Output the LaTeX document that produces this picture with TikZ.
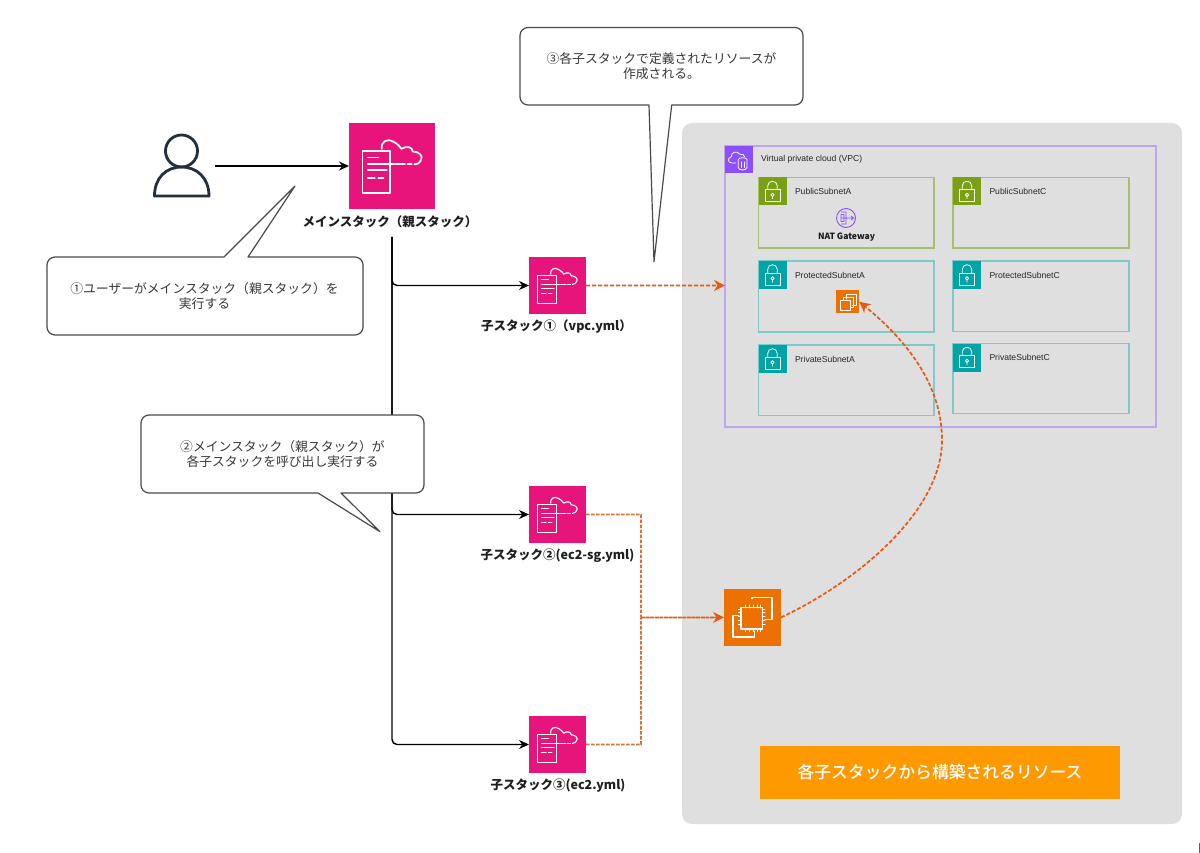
\documentclass[tikz,border=0pt]{standalone}
\usepackage{fontspec}
\setmainfont{Noto Sans CJK JP}
\newfontfamily\lat{Liberation Sans}
\newfontfamily\jpmed{Noto Sans CJK JP Medium}
\usetikzlibrary{arrows.meta,calc}
\definecolor{cfpink}{HTML}{E7157B}
\definecolor{ecorange}{HTML}{ED7100}
\definecolor{vpcpurple}{HTML}{8C4FFF}
\definecolor{vpcline}{HTML}{BFA5EA}
\definecolor{subgreen}{HTML}{7AA116}
\definecolor{greenline}{HTML}{A8BF6C}
\definecolor{subteal}{HTML}{00A4A6}
\definecolor{tealline}{HTML}{80C9C9}
\definecolor{panelgray}{HTML}{DFDFDF}
\definecolor{dashor}{HTML}{E35A14}
\definecolor{dashtan}{HTML}{DB7338}
\definecolor{bubbleline}{HTML}{4A4A4A}
\definecolor{inkdark}{HTML}{232F3E}
\definecolor{cornerblue}{HTML}{2F62D9}
\definecolor{bannerorange}{HTML}{FF9900}
\tikzset{
 box/.style={inner sep=0,outer sep=0},
 glyph/.style={draw=white,line width=#1,fill=none,line cap=round,line join=round},
 glyph/.default=1,
 bubble/.style={draw=bubbleline,fill=white,line width=1.2pt,line join=round},
 bubbletext/.style={box,align=center,text=black!78,font=\fontsize{12.8}{15}\selectfont},
 labeltext/.style={box,align=center,text=black!88,font=\fontsize{12.5}{14}\selectfont\bfseries},
 tiny/.style={box,anchor=west,text=black!85,font=\lat\fontsize{8.6}{10}\selectfont},
 trunk/.style={draw=black,line width=1.4pt,rounded corners=5pt,-{Stealth[length=10pt,width=9pt]}},
 dashline/.style={draw=dashor,line width=1.7pt,dash pattern=on 4pt off 2pt,-{Stealth[length=11pt,width=11pt]}},
 straightdash/.style={dashline,line width=1.7pt},
 tanline/.style={draw=dashtan,line width=1.7pt,dash pattern=on 3.5pt off 1.5pt},
}
% name, x, y, size
\newcommand{\cficon}[4]{%
 \node[box,fill=cfpink,minimum size=#4*1pt,anchor=north west] (#1) at (#2,#3) {};
 \pgfmathsetmacro{\uu}{#4/100}
 \pgfmathsetmacro{\lw}{#4/50}
 \begin{scope}[shift={(#2,#3)},x=\uu pt,y=-\uu pt]
  \draw[glyph=\lw pt] (15.6,32.8) rectangle (48,81.8);
  \draw[glyph=\lw pt] (22,40)--(34,40) (22,47.5)--(65,47.5) (68,47.5)--(73,47.5) (22,55)--(44,55) (22,64)--(30,64) (34,64)--(40,64);
  \draw[glyph=\lw pt] (38,30) .. controls (37,22) and (44,17) .. (52,22) .. controls (56,24) and (59,27) .. (61,30) .. controls (67,26) and (74,28) .. (74,33) .. controls (82,33) and (86,39) .. (84,42) .. controls (83,46) and (80,48) .. (76,48);
 \end{scope}}
% x, y of tile, colour
\newcommand{\locktile}[3]{%
 \fill[#3] (#1,#2) rectangle ++(28,28);
 \begin{scope}[shift={(#1,#2)},x=.28pt,y=-.28pt]
  \draw[glyph=.8pt] (23,44) rectangle (78,86);
  \draw[glyph=.8pt] (33,44) -- (33,30) .. controls (33,8) and (67,8) .. (67,30) -- (67,44);
  \draw[glyph=.8pt] (50,62) circle[radius=6] (50,68)--(50,76);
 \end{scope}}
% name, x1, y1, x2, y2, line colour, tile colour, label
\newcommand{\subnetbox}[8]{%
 \node[box,draw=#6,line width=1.3pt,minimum width={(#4-#2)*1pt},minimum height={(#5-#3)*1pt}] (#1) at ({(#2+#4)/2},{(#3+#5)/2}) {};
 \locktile{#2}{#3}{#7}
 \node[tiny] (#1label) at ({#2+36.5},{#3+14}) {#8};}
\begin{document}
\begin{tikzpicture}[x=1pt,y=-1pt]
\useasboundingbox (0,0) rectangle (1200,853);
\fill[white] (0,0) rectangle (1200,853);
\fill[cornerblue] (1199,843) rectangle (1200,853);
% panel
\node[box,fill=panelgray,rounded corners=10pt,minimum width=500pt,minimum height=701pt] (panel) at (932,473.5) {};
% vpc
\node[box,draw=vpcline,line width=1.3pt,minimum width=431pt,minimum height=281pt] (vpc) at (940.5,286.5) {};
\fill[vpcpurple] (725,146) rectangle (752.5,173.5);
\begin{scope}[shift={(725,146)},x=.275pt,y=-.275pt]
 \draw[glyph=.8pt] (40,62) -- (25,62) .. controls (10,62) and (8,42) .. (22,40) .. controls (22,22) and (44,15) .. (54,30) .. controls (62,28) and (70,32) .. (72,40);
 \draw[glyph=.8pt] (48,50) -- (48,78) .. controls (48,90) and (80,90) .. (80,78) -- (80,50) .. controls (80,40) and (48,40) .. (48,50);
 \draw[glyph=.8pt] (59,58)--(59,78) (69,58)--(69,78);
\end{scope}
\node[tiny] (vpclabel) at (761,159.5) {Virtual private cloud (VPC)};
% subnets
\subnetbox{puba}{758.5}{177.5}{934}{248}{greenline}{subgreen}{PublicSubnetA}
\subnetbox{pubc}{953}{177.5}{1129}{248}{greenline}{subgreen}{PublicSubnetC}
\subnetbox{prota}{758.5}{261}{934}{332}{tealline}{subteal}{ProtectedSubnetA}
\subnetbox{protc}{953}{261}{1129}{331.5}{tealline}{subteal}{ProtectedSubnetC}
\subnetbox{priva}{758.5}{345}{934}{415.5}{tealline}{subteal}{PrivateSubnetA}
\subnetbox{privc}{953}{343.5}{1129}{413.5}{tealline}{subteal}{PrivateSubnetC}
% NAT
\node[box,circle,draw=vpcpurple,line width=.9pt,minimum size=19pt] (nat) at (846,218) {};
\draw[vpcpurple,line width=.8pt,line join=round] (841,212)--(846,212)--(846,224)--(841,224) (841,218)--(853,218) (841,214.5) rectangle (844,221.5) (851,216)--(853.5,218)--(851,220);
\node[box,font=\fontsize{8.6}{10}\selectfont\bfseries,text=black!90] (natlabel) at (846.5,237) {NAT Gateway};
% ASG
\node[box,fill=ecorange,minimum size=23.5pt] (asg) at (847.5,301.7) {};
\begin{scope}[shift={(835.7,290)},x=.235pt,y=-.235pt]
 \draw[glyph=.7pt] (44,38) -- (44,17) -- (87,17) -- (87,64) -- (70,64);
 \draw[glyph=.7pt] (32,43) -- (32,30) -- (75,30) -- (75,75) -- (64,75);
 \draw[glyph=.7pt] (19,43) rectangle (64,86);
\end{scope}
% EC2
\node[box,fill=ecorange,minimum size=57pt] (ec2) at (752.5,617.5) {};
\begin{scope}[shift={(724,589)},x=.57pt,y=-.57pt]
 \draw[glyph=1.3pt] (30,33) rectangle (67,70);
 \draw[glyph=1.3pt] (49,17)--(49,15)--(84,15)--(84,53)--(72,53);
 \draw[glyph=1.3pt] (26,47)--(16,47)--(16,84)--(53,84)--(53,74);
 \foreach \t in {37,44,51,58,64}{
  \draw[glyph=.9pt] (\t,33)--(\t,28) (\t,70)--(\t,75);
  \draw[glyph=.9pt] (30,\t-2)--(25,\t-2) (67,\t-2)--(72,\t-2);
 }
\end{scope}
% banner
\node[box,fill=bannerorange,minimum width=360pt,minimum height=53.5pt,text=white,font=\jpmed\fontsize{16.8}{20}\selectfont] (banner) at (940,772.5) {各子スタックから構築されるリソース};
% person
\node[box,minimum width=67pt,minimum height=66pt] (user) at (181.5,166) {};
\draw[inkdark,line width=2.8pt] (181.5,151) circle[radius=16];
\draw[inkdark,line width=2.8pt,line join=round] (154.5,196) .. controls (154.5,178) and (166,167) .. (181.5,167) .. controls (197,167) and (209,178) .. (209,196) -- cycle;
% stacks
\cficon{main}{349}{123}{86}
\cficon{child1}{529}{257}{57}
\cficon{child2}{529}{486}{57}
\cficon{child3}{529}{716}{57}
\node[labeltext] (mainlabel) at (390,222) {メインスタック（親スタック）};
\node[labeltext] (child1label) at (556.5,326) {子スタック①（vpc.yml）};
\node[labeltext] (child2label) at (557.5,555.5) {子スタック②(ec2-sg.yml)};
\node[labeltext] (child3label) at (558,786) {子スタック③(ec2.yml)};
% connectors
\coordinate (trunktop) at (392,237);
\coordinate (join) at (641,617.5);
\coordinate (c2corner) at (child2.east -| join);
\coordinate (c3corner) at (child3.east -| join);
\coordinate (vpcin) at (child1.east -| vpc.west);
\draw[draw=black,line width=1.4pt,-{Stealth[length=10pt,width=9pt]}] (user.east) -- (main.west);
\draw[trunk] (trunktop) |- (child1.west);
\draw[trunk] (trunktop) |- (child2.west);
\draw[trunk] (trunktop) |- (child3.west);
\draw[straightdash] (child1.east) .. controls ($(child1.east)!.33!(vpcin)+(0,.15)$) and ($(child1.east)!.66!(vpcin)+(0,-.15)$) .. (vpcin);
\draw[tanline] (child2.east) .. controls ($(child2.east)!.33!(c2corner)+(0,.15)$) and ($(child2.east)!.66!(c2corner)+(0,-.15)$) .. (c2corner) .. controls ($(c2corner)!.33!(join)+(.15,0)$) and ($(c2corner)!.66!(join)+(-.15,0)$) .. (join);
\draw[tanline] (child3.east) .. controls ($(child3.east)!.33!(c3corner)+(0,.15)$) and ($(child3.east)!.66!(c3corner)+(0,-.15)$) .. (c3corner) .. controls ($(c3corner)!.33!(join)+(.15,0)$) and ($(c3corner)!.66!(join)+(-.15,0)$) .. (join);
\draw[straightdash,dash pattern=on 4pt off .6pt] (join) .. controls ($(join)!.33!(ec2.west)+(0,.15)$) and ($(join)!.66!(ec2.west)+(0,-.15)$) .. (ec2.west);
\draw[dashline] (ec2.east) .. controls (860,580) and (942,510) .. (942,440) .. controls (942,380) and (900,335) .. (asg.east);
% bubbles
\draw[bubble,rounded corners=8pt] (47,257) -- (200,257) [sharp corners] -- (224,257) -- (295,186) -- (248,257) -- (270,257) [rounded corners=8pt] -- (363,257) -- (363,335) -- (47,335) -- cycle;
\node[bubbletext] (b1) at (204.5,296.5) {①ユーザーがメインスタック（親スタック）を\\実行する};
\draw[bubble,rounded corners=8pt] (141,415) -- (424,415) -- (424,493) -- (370,493) [sharp corners] -- (341,493) -- (380,531.7) -- (318,493) -- (290,493) [rounded corners=8pt] -- (141,493) -- cycle;
\node[bubbletext] (b2) at (282.5,454) {②メインスタック（親スタック）が\\各子スタックを呼び出し実行する};
\draw[bubble,rounded corners=8pt] (520,27.5) -- (803,27.5) -- (803,105) -- (700,105) [sharp corners] -- (671.7,105) -- (654,261.7) -- (649,105) -- (620,105) [rounded corners=8pt] -- (520,105) -- cycle;
\node[bubbletext] (b3) at (661.5,66) {③各子スタックで定義されたリソースが\\作成される。};
\end{tikzpicture}
\end{document}
